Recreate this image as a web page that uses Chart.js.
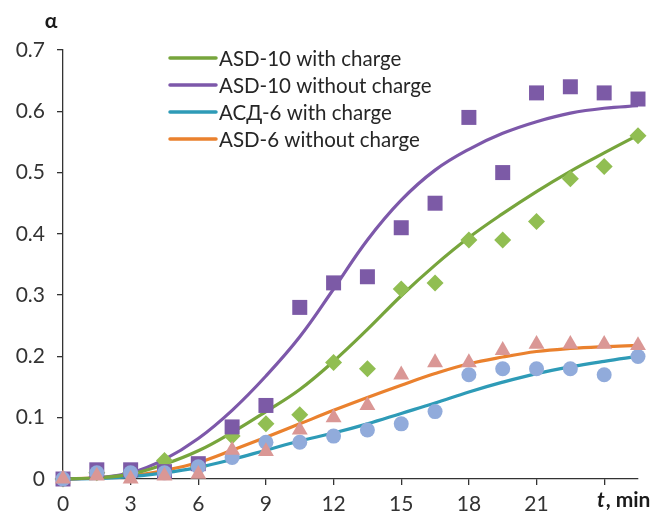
<!DOCTYPE html>
<html>
<head>
<meta charset="utf-8">
<script src="https://cdn.jsdelivr.net/npm/chart.js@4.4.1/dist/chart.umd.min.js"></script>
<style>
  html, body { margin: 0; padding: 0; background: #fff; }
  #wrap { width: 655px; height: 516px; position: relative; }
</style>
</head>
<body>
<div id="wrap"><canvas id="c" width="655" height="516"></canvas></div>
<script>
// Sampling times, min
const times = [0, 1.5, 3, 4.5, 6, 7.5, 9, 10.5, 12, 13.5, 15, 16.5, 18, 19.5, 21, 22.5, 24, 25.5];

// Measured conversion degree α
const asd10ChargeMeasured   = [0, 0.01, 0.01, 0.03, 0.02, 0.07, 0.09, 0.105, 0.19, 0.18, 0.31, 0.32, 0.39, 0.39, 0.42, 0.49, 0.51, 0.56];
const asd10NoChargeMeasured = [0, 0.015, 0.015, 0.012, 0.025, 0.085, 0.12, 0.28, 0.32, 0.33, 0.41, 0.45, 0.59, 0.50, 0.63, 0.64, 0.63, 0.62];
const asd6ChargeMeasured    = [0, 0.01, 0.01, 0.01, 0.02, 0.035, 0.06, 0.06, 0.07, 0.08, 0.09, 0.11, 0.17, 0.18, 0.18, 0.18, 0.17, 0.20];
const asd6NoChargeMeasured  = [0, 0.005, 0.0, 0.005, 0.008, 0.047, 0.045, 0.08, 0.10, 0.12, 0.17, 0.19, 0.19, 0.21, 0.22, 0.22, 0.22, 0.218];

// Model curves α(t)
const asd10ChargeModel   = [0, 0.002, 0.008, 0.024, 0.046, 0.076, 0.11, 0.146, 0.192, 0.244, 0.299, 0.349, 0.394, 0.433, 0.469, 0.502, 0.532, 0.561];
const asd10NoChargeModel = [0, 0.002, 0.01, 0.032, 0.066, 0.112, 0.168, 0.232, 0.31, 0.39, 0.455, 0.504, 0.538, 0.564, 0.583, 0.597, 0.605, 0.609];
const asd6ChargeModel    = [0, 0.001, 0.004, 0.01, 0.019, 0.032, 0.047, 0.062, 0.075, 0.09, 0.107, 0.124, 0.142, 0.158, 0.172, 0.183, 0.192, 0.20];
const asd6NoChargeModel  = [0, 0.002, 0.005, 0.014, 0.027, 0.047, 0.068, 0.09, 0.112, 0.133, 0.153, 0.172, 0.188, 0.199, 0.208, 0.213, 0.216, 0.218];

const seriesNames = ['ASD-10 with charge', 'ASD-10 without charge', 'АСД-6 with charge', 'ASD-6 without charge'];

const yTicks = [0, 0.1, 0.2, 0.3, 0.4, 0.5, 0.6, 0.7];
const xTicks = [0, 3, 6, 9, 12, 15, 18, 21, 24];
const xTickLabels = ['0', '3', '6', '9', '12', '15', '18', '21', ''];

const FONT = 'Lato, "Liberation Sans", sans-serif';
const lineColors = ['#77A53C', '#7D58AA', '#2E9BB7', '#EA812E'];
const markerColors = ['#91BE52', '#7C5AA6', '#91ABDB', '#DA9795'];

const pts = (vals) => times.map((t, i) => ({ x: t, y: vals[i] }));

function modelSet(label, vals, color) {
  return {
    label, data: pts(vals), showLine: true, borderColor: color, backgroundColor: color,
    borderWidth: 3.2, pointRadius: 0, pointHoverRadius: 0, tension: 0.4,
    order: 5, clip: false, isModel: true
  };
}
function markerSet(vals, style, radius, color, order) {
  return {
    label: '', data: pts(vals), showLine: false, pointStyle: style, pointRadius: radius,
    pointHoverRadius: radius, backgroundColor: color, borderColor: color, borderWidth: 0,
    order, clip: false, isModel: false
  };
}

const datasets = [
  modelSet(seriesNames[0], asd10ChargeModel, lineColors[0]),
  modelSet(seriesNames[1], asd10NoChargeModel, lineColors[1]),
  modelSet(seriesNames[2], asd6ChargeModel, lineColors[2]),
  modelSet(seriesNames[3], asd6NoChargeModel, lineColors[3]),
  markerSet(asd10ChargeMeasured, 'rectRot', 8.5, markerColors[0], 4),
  markerSet(asd10NoChargeMeasured, 'rect', 10.6, markerColors[1], 3),
  markerSet(asd6ChargeMeasured, 'circle', 7.5, markerColors[2], 2),
  markerSet(asd6NoChargeMeasured, 'triangle', 9.2, markerColors[3], 1)
];

// Legend for the model curves, axis symbols
const annotations = {
  id: 'annotations',
  afterDraw(chart) {
    const ctx = chart.ctx;
    ctx.save();
    const rows = [58, 85, 112, 139];
    ctx.font = '20.5px ' + FONT;
    ctx.textBaseline = 'middle';
    ctx.textAlign = 'left';
    datasets.filter(d => d.isModel).forEach((d, i) => {
      ctx.strokeStyle = d.borderColor;
      ctx.lineWidth = 3.5;
      ctx.lineCap = 'round';
      ctx.beginPath();
      ctx.moveTo(170, rows[i]);
      ctx.lineTo(216, rows[i]);
      ctx.stroke();
      ctx.fillStyle = '#262626';
      ctx.fillText(d.label, 219, rows[i] + 1);
    });
    // y symbol
    ctx.fillStyle = '#1a1a1a';
    ctx.font = 'bold 21px ' + FONT;
    ctx.textAlign = 'center';
    ctx.fillText('α', 51, 21);
    // x title
    ctx.textAlign = 'left';
    ctx.font = 'italic bold 21px ' + FONT;
    const tW = ctx.measureText('t').width;
    ctx.fillText('t', 597, 500);
    ctx.font = 'bold 21px ' + FONT;
    ctx.fillText(', min', 597 + tW + 1, 500);
    ctx.restore();
  }
};

new Chart(document.getElementById('c'), {
  type: 'scatter',
  data: { datasets },
  options: {
    responsive: false,
    animation: false,
    events: [],
    layout: { padding: { top: 50, right: 17, left: 0, bottom: 0 } },
    plugins: { legend: { display: false }, tooltip: { enabled: false } },
    scales: {
      x: {
        type: 'linear', min: 0, max: 25.5,
        afterBuildTicks: (s) => { s.ticks = xTicks.map(v => ({ value: v })); },
        afterFit: (s) => { s.height = 37; },
        ticks: {
          callback: (v) => { const i = xTicks.indexOf(v); return i >= 0 ? xTickLabels[i] : ''; },
          font: { family: FONT, size: 21 }, color: '#333', padding: 7, maxRotation: 0, autoSkip: false
        },
        grid: { drawOnChartArea: false, drawTicks: true, tickLength: 6, color: '#333', lineWidth: 1.3 },
        border: { color: '#333', width: 1.3 }
      },
      y: {
        type: 'linear', min: 0, max: 0.7,
        afterBuildTicks: (s) => { s.ticks = yTicks.map(v => ({ value: v })); },
        afterFit: (s) => { s.width = 63; },
        ticks: {
          callback: (v) => (v === 0 ? '0' : v.toFixed(1)),
          font: { family: FONT, size: 21 }, color: '#333', padding: 12
        },
        grid: { drawOnChartArea: false, drawTicks: true, tickLength: 6, color: '#333', lineWidth: 1.3 },
        border: { color: '#333', width: 1.3 }
      }
    }
  },
  plugins: [annotations]
});
</script>
</body>
</html>
